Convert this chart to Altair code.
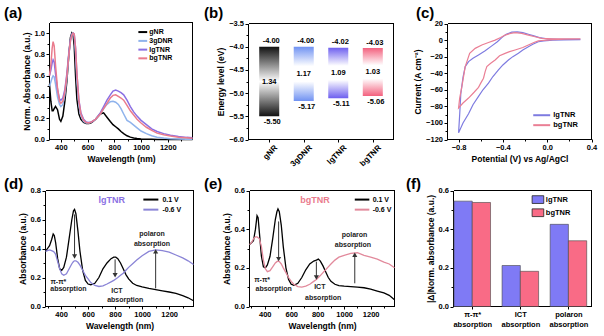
import json
import math
import altair as alt
import pandas as pd

W, H = 604, 336
FONT = "Liberation Sans"
ARROW = "#333333"

# ---------------- (a) normalized absorption ----------------
wl_a = [315, 325, 335, 342, 350, 360, 375, 390, 400, 415, 430, 445, 460, 472, 482, 492,
        500, 510, 520, 535, 550, 570, 590, 610, 630, 660, 695, 720, 745, 770, 790, 810,
        830, 850, 870, 895, 920, 945, 970, 1000, 1040, 1080, 1120, 1170, 1220, 1280, 1340, 1385]
abs_gNR = [0.52, 0.36, 0.27, 0.27, 0.29, 0.31, 0.28, 0.19, 0.17, 0.22,
           0.36, 0.55, 0.80, 0.96, 1.00, 0.98, 0.88, 0.60, 0.38, 0.24,
           0.19, 0.16, 0.15, 0.15, 0.16, 0.19, 0.24, 0.25, 0.21, 0.17,
           0.14, 0.12, 0.10, 0.075, 0.055, 0.035, 0.022, 0.014, 0.009, 0.005,
           0.003, 0.002, 0.001, 0.001, 0.0, 0.0, 0.0, 0.0]
abs_3gDNR = [0.50, 0.54, 0.58, 0.60, 0.59, 0.52, 0.40, 0.33, 0.31, 0.33,
             0.42, 0.58, 0.80, 0.93, 0.99, 1.00, 0.97, 0.80, 0.55, 0.32,
             0.22, 0.17, 0.155, 0.155, 0.165, 0.19, 0.24, 0.29, 0.33, 0.355,
             0.36, 0.35, 0.33, 0.29, 0.24, 0.18, 0.16, 0.135, 0.11, 0.08,
             0.055, 0.035, 0.022, 0.013, 0.008, 0.005, 0.003, 0.002]
abs_lgTNR = [0.60, 0.65, 0.72, 0.75, 0.73, 0.62, 0.47, 0.38, 0.37, 0.39,
             0.47, 0.62, 0.82, 0.94, 0.99, 1.00, 0.99, 0.86, 0.62, 0.37,
             0.25, 0.19, 0.165, 0.16, 0.165, 0.19, 0.25, 0.31, 0.37, 0.42,
             0.455, 0.465, 0.455, 0.44, 0.42, 0.37, 0.31, 0.26, 0.22, 0.18,
             0.14, 0.10, 0.075, 0.055, 0.04, 0.028, 0.02, 0.016]
abs_bgTNR = [0.60, 0.70, 0.86, 0.92, 0.88, 0.70, 0.48, 0.36, 0.34, 0.36,
             0.45, 0.60, 0.80, 0.93, 0.98, 1.00, 0.99, 0.86, 0.62, 0.36,
             0.24, 0.18, 0.16, 0.155, 0.165, 0.19, 0.24, 0.29, 0.34, 0.39,
             0.415, 0.42, 0.405, 0.39, 0.37, 0.32, 0.27, 0.23, 0.19, 0.155,
             0.115, 0.085, 0.06, 0.045, 0.032, 0.022, 0.016, 0.012]
names_a = ["gNR", "3gDNR", "lgTNR", "bgTNR"]
colors_a = ["#000000", "#8fb3ec", "#8a6fe3", "#ea7b8d"]

# ---------------- (b) energy levels ----------------
cat_b = ["gNR", "3gDNR", "lgTNR", "bgTNR"]
lumo_b = [-4.00, -4.00, -4.02, -4.03]
homo_b = [-5.50, -5.17, -5.11, -5.06]
gap_b = [1.34, 1.17, 1.09, 1.03]
colors_b = ["#111111", "#7092f2", "#6d5fef", "#f3627f"]

# ---------------- (c) cyclic voltammetry ----------------
cv_lg_v = [0.30, 0.15, 0.05, -0.03, -0.08, -0.13, -0.17, -0.22, -0.26, -0.31,
           -0.35, -0.40, -0.44, -0.49, -0.53, -0.58, -0.62, -0.67, -0.71, -0.76,
           -0.80, -0.79, -0.78, -0.76, -0.74, -0.71, -0.67, -0.62, -0.56, -0.50,
           -0.45, -0.41, -0.37, -0.32, -0.27, -0.22, -0.17, -0.12, -0.07, 0.00, 0.10, 0.30]
cv_lg_i = [0.5, 0.3, 0.0, -1.0, -2.0, -5.0, -8.0, -12.0, -16.0, -20.0,
           -24.0, -30.0, -36.0, -44.0, -52.0, -60.0, -68.0, -78.0, -89.0, -100.0,
           -112.0, -90.0, -65.0, -45.0, -32.0, -26.0, -22.0, -18.0, -13.0, -7.0,
           -2.0, 3.0, 7.0, 9.5, 10.0, 9.0, 7.0, 5.0, 3.0, 1.5, 1.0, 1.0]
cv_bg_v = [0.30, 0.15, 0.05, 0.00, -0.05, -0.08, -0.12, -0.17, -0.22, -0.29,
           -0.34, -0.38, -0.43, -0.47, -0.51, -0.545, -0.56, -0.575, -0.60, -0.62,
           -0.66, -0.71, -0.76, -0.80, -0.79, -0.77, -0.74, -0.70, -0.65, -0.59,
           -0.53, -0.47, -0.42, -0.38, -0.33, -0.29, -0.23, -0.17, -0.11, -0.05, 0.05, 0.30]
cv_bg_i = [1.5, 1.0, 0.5, 0.0, -0.5, -1.0, -3.0, -6.0, -9.0, -12.0,
           -14.0, -16.0, -19.0, -24.0, -28.0, -32.0, -38.0, -46.0, -52.0, -57.0,
           -63.0, -70.0, -76.0, -82.0, -70.0, -56.0, -32.0, -16.0, -10.0, -6.0,
           -3.0, 0.0, 3.0, 6.0, 8.0, 9.0, 8.0, 6.0, 4.0, 2.0, 1.5, 1.5]
names_c = ["lgTNR", "bgTNR"]
colors_c = ["#7e7be0", "#ea7f95"]

# ---------------- (d), (e) spectroelectrochemistry ----------------
wl_de = [285, 300, 315, 330, 342, 350, 360, 375, 390, 405, 420, 440, 460, 480, 492, 500,
         510, 525, 540, 560, 580, 600, 620, 650, 680, 710, 740, 770, 790, 805, 820, 840,
         860, 880, 900, 930, 960, 1000, 1050, 1100, 1150, 1200, 1250, 1300, 1340, 1380]
d_pos = [0.38, 0.40, 0.42, 0.46, 0.50, 0.49, 0.44, 0.33, 0.26, 0.25,
         0.27, 0.34, 0.47, 0.60, 0.66, 0.67, 0.64, 0.52, 0.38, 0.25,
         0.18, 0.155, 0.15, 0.16, 0.20, 0.26, 0.30, 0.33, 0.34, 0.34,
         0.33, 0.30, 0.26, 0.22, 0.19, 0.16, 0.145, 0.135, 0.125, 0.117,
         0.108, 0.10, 0.09, 0.075, 0.06, 0.04]
d_neg = [0.38, 0.385, 0.39, 0.385, 0.38, 0.375, 0.36, 0.31, 0.26, 0.225,
         0.215, 0.225, 0.26, 0.295, 0.31, 0.315, 0.315, 0.305, 0.285, 0.25,
         0.215, 0.19, 0.165, 0.145, 0.138, 0.142, 0.155, 0.17, 0.18, 0.19,
         0.20, 0.215, 0.23, 0.25, 0.27, 0.295, 0.32, 0.35, 0.38, 0.39,
         0.385, 0.375, 0.355, 0.335, 0.315, 0.29]
e_pos = [0.32, 0.33, 0.34, 0.40, 0.47, 0.46, 0.38, 0.26, 0.205, 0.20,
         0.215, 0.26, 0.35, 0.45, 0.49, 0.505, 0.49, 0.42, 0.31, 0.20,
         0.14, 0.115, 0.11, 0.12, 0.15, 0.19, 0.22, 0.235, 0.24, 0.245,
         0.235, 0.21, 0.18, 0.15, 0.13, 0.115, 0.108, 0.105, 0.103, 0.10,
         0.097, 0.09, 0.08, 0.07, 0.058, 0.035]
e_neg = [0.32, 0.33, 0.35, 0.36, 0.36, 0.355, 0.35, 0.31, 0.24, 0.195,
         0.18, 0.185, 0.205, 0.225, 0.232, 0.235, 0.232, 0.22, 0.20, 0.175,
         0.15, 0.13, 0.115, 0.103, 0.10, 0.105, 0.115, 0.13, 0.14, 0.15,
         0.16, 0.175, 0.19, 0.205, 0.22, 0.24, 0.255, 0.265, 0.275, 0.278,
         0.265, 0.255, 0.245, 0.23, 0.22, 0.20]
bias = ["0.1 V", "-0.6 V"]
colors_d = ["#000000", "#8a84d6"]
colors_e = ["#000000", "#e28a9c"]
ann_words = ["π-π*", "absorption", "ICT", "absorption", "polaron", "absorption"]
ann_d_x = [380, 454, 814, 875, 1073, 1073]
ann_d_y = [0.168, 0.121, 0.107, 0.045, 0.502, 0.433]
ann_e_x = [380, 467, 816, 841, 1078, 1066]
ann_e_y = [0.138, 0.091, 0.100, 0.046, 0.371, 0.319]
arr_d_x = [500, 800, 1100]
arr_d_from = [0.635, 0.325, 0.125]
arr_d_to = [0.345, 0.215, 0.38]
arr_e_x = [505, 790, 1080]
arr_e_from = [0.44, 0.232, 0.12]
arr_e_to = [0.245, 0.15, 0.268]

# ---------------- (f) bar summary ----------------
groups_f = ["π-π*", "ICT", "polaron"]
f_lg = [0.545, 0.212, 0.425]
f_bg = [0.538, 0.182, 0.340]
names_f = ["lgTNR", "bgTNR"]
colors_f = ["#7f7af5", "#f96b86"]

FRAME_COLOR = "#000000"


# ---------------- helpers ----------------
def lin(dom, rng):
    return alt.Scale(domain=dom, range=rng, nice=False, zero=False)


def xax(title, values, fmt, ypix, **kw):
    return alt.Axis(title=title, values=values, format=fmt, orient="bottom",
                    offset=math.floor(ypix) - H, **kw)


def yax(title, values, fmt, xpix, **kw):
    return alt.Axis(title=title, values=values, format=fmt, orient="left",
                    offset=-math.floor(xpix), **kw)


def guides(sx, sy, xd, yd, rx, ry, minx=None, miny=None):
    """Invisible anchor layers carrying the minor ticks and the top/right frame edges."""
    df = pd.DataFrame({"gx": [xd[0]], "gy": [yd[0]]})
    out = []
    ax_mx = (alt.Axis(title=None, values=minx, orient="bottom", offset=math.floor(ry[0]) - H,
                      labels=False, domain=False, tickSize=2) if minx else None)
    ax_my = (alt.Axis(title=None, values=miny, orient="left", offset=-math.floor(rx[0]),
                      labels=False, domain=False, tickSize=2) if miny else None)
    out.append(alt.Chart(df).mark_point(opacity=0).encode(
        x=alt.X("gx:Q", scale=sx, axis=ax_mx), y=alt.Y("gy:Q", scale=sy, axis=ax_my)))
    out.append(alt.Chart(df).mark_point(opacity=0).encode(
        x=alt.X("gx:Q", scale=sx,
                axis=alt.Axis(title=None, orient="top", offset=-math.floor(ry[1]),
                              labels=False, ticks=False, domain=True,
                              domainColor=FRAME_COLOR, domainWidth=1)),
        y=alt.Y("gy:Q", scale=sy,
                axis=alt.Axis(title=None, orient="right", offset=math.floor(rx[1]) - W,
                              labels=False, ticks=False, domain=True,
                              domainColor=FRAME_COLOR, domainWidth=1))))
    return out


def line_legend(names, colors, ys, x0, x1, xt, sx, sy, size=7):
    df = pd.DataFrame({"series": names, "y": ys, "lx0": x0, "lx1": x1, "xt": xt})
    cs = alt.Scale(domain=names, range=colors)
    r = alt.Chart(df).mark_rule(strokeWidth=2).encode(
        x=alt.X("lx0:Q", scale=sx, axis=None), x2=alt.X2("lx1"),
        y=alt.Y("y:Q", scale=sy, axis=None),
        color=alt.Color("series:N", scale=cs, legend=None))
    t = alt.Chart(df).mark_text(align="left", baseline="middle", fontSize=size).encode(
        x=alt.X("xt:Q", scale=sx, axis=None), y=alt.Y("y:Q", scale=sy, axis=None),
        text="series:N")
    return [r, t]


def arrows(xs, y0s, y1s, sx, sy):
    df = pd.DataFrame({"x": xs, "y0": y0s, "y1": y1s})
    shaft = alt.Chart(df).mark_rule(color=ARROW, strokeWidth=1).encode(
        x=alt.X("x:Q", scale=sx, axis=None), y=alt.Y("y0:Q", scale=sy, axis=None), y2=alt.Y2("y1"))
    head = alt.Chart(df).transform_calculate(ang="datum.y1 < datum.y0 ? 180 : 0").mark_point(
        shape="triangle-up", filled=True, color=ARROW, size=26, opacity=1).encode(
        x=alt.X("x:Q", scale=sx, axis=None), y=alt.Y("y1:Q", scale=sy, axis=None),
        angle=alt.Angle("ang:Q", scale=None))
    return [shaft, head]


def notes(words, xs, ys, sx, sy, size=7):
    df = pd.DataFrame({"w": words, "x": xs, "y": ys})
    return alt.Chart(df).mark_text(fontSize=size, color="#222222", baseline="middle").encode(
        x=alt.X("x:Q", scale=sx, axis=None), y=alt.Y("y:Q", scale=sy, axis=None), text="w:N")


wl_ticks = [400, 600, 800, 1000, 1200]
wl_minor = [300, 500, 700, 900, 1100, 1300]
layers = []

# ---------------- panel (a) ----------------
XA, YA = [315, 1385], [0, 1.1]
RXA, RYA = [49.5, 192.5], [139.5, 22.5]
sxa, sya = lin(XA, RXA), lin(YA, RYA)
df_a = pd.DataFrame({
    "wl": wl_a * 4,
    "val": abs_gNR + abs_3gDNR + abs_lgTNR + abs_bgTNR,
    "series": sum([[nm] * len(wl_a) for nm in names_a], []),
})
layers.append(alt.Chart(df_a).mark_line(strokeWidth=1.5).encode(
    x=alt.X("wl:Q", scale=sxa, axis=xax("Wavelength (nm)", wl_ticks, "d", RYA[0])),
    y=alt.Y("val:Q", scale=sya, axis=yax("Norm. Absorbance (a.u.)", [0, 0.2, 0.4, 0.6, 0.8, 1.0], ".1f", RXA[0])),
    color=alt.Color("series:N", scale=alt.Scale(domain=names_a, range=colors_a), legend=None),
))
layers += line_legend(names_a, colors_a, [1.01, 0.927, 0.845, 0.763], 980, 1046, 1062, sxa, sya)
layers += guides(sxa, sya, XA, YA, RXA, RYA, wl_minor[1:], [0.1, 0.3, 0.5, 0.7, 0.9])

# ---------------- panel (b) ----------------
XB, YB = [-0.6, 3.6], [-6.0, -3.5]
RXB, RYB = [248.5, 393.5], [139.5, 23.5]
sxb, syb = lin(XB, RXB), lin(YB, RYB)
df_b = pd.DataFrame({
    "idx": list(range(len(cat_b))),
    "name": cat_b,
    "lumo": lumo_b,
    "homo": homo_b,
    "mid": [(a + b) / 2 for a, b in zip(lumo_b, homo_b)],
    "lumo_t": [f"{v:.2f}" for v in lumo_b],
    "homo_t": [f"{v:.2f}" for v in homo_b],
    "gap_t": [f"{v:.2f}" for v in gap_b],
})


def grad(c, continuous):
    if continuous:
        stops = [{"offset": 0, "color": c}, {"offset": 0.5, "color": "#ffffff"},
                 {"offset": 1, "color": c}]
    else:
        stops = [{"offset": 0, "color": c}, {"offset": 0.36, "color": "#ffffff"},
                 {"offset": 0.64, "color": "#ffffff"}, {"offset": 1, "color": c}]
    return {"gradient": "linear", "x1": 0, "y1": 0, "x2": 0, "y2": 1, "stops": stops}


for i, c in enumerate(colors_b):
    first = i == 0
    layers.append(
        alt.Chart(df_b).transform_filter(alt.datum.idx == i)
        .transform_calculate(bx0="datum.idx - 0.29", bx1="datum.idx + 0.29")
        .mark_rect(color=grad(c, first))
        .encode(
            x=alt.X("bx0:Q", scale=sxb,
                    axis=alt.Axis(title=None, values=list(range(len(cat_b))), orient="bottom",
                                  offset=math.floor(RYB[0]) - H, labelAngle=315, labelOffset=4,
                                  labelFontSize=8,
                                  labelExpr=json.dumps(cat_b) + "[datum.value]") if first else None),
            x2=alt.X2("bx1"),
            y=alt.Y("lumo:Q", scale=syb,
                    axis=yax("Energy level (eV)", [-6.0, -5.5, -5.0, -4.5, -4.0, -3.5], ".1f", RXB[0]) if first else None),
            y2=alt.Y2("homo"),
        )
    )
layers.append(alt.Chart(df_b).mark_text(fontSize=7.5, baseline="bottom", dy=-1.5, dx=2).encode(
    x=alt.X("idx:Q", scale=sxb, axis=None), y=alt.Y("lumo:Q", scale=syb, axis=None), text="lumo_t:N"))
layers.append(alt.Chart(df_b).mark_text(fontSize=7.5, baseline="top", dy=2, dx=3).encode(
    x=alt.X("idx:Q", scale=sxb, axis=None), y=alt.Y("homo:Q", scale=syb, axis=None), text="homo_t:N"))
layers.append(alt.Chart(df_b).mark_text(fontSize=7.5, baseline="middle").encode(
    x=alt.X("idx:Q", scale=sxb, axis=None), y=alt.Y("mid:Q", scale=syb, axis=None), text="gap_t:N"))
layers += guides(sxb, syb, XB, YB, RXB, RYB, None, [-5.75, -5.25, -4.75, -4.25, -3.75])

# ---------------- panel (c) ----------------
XC, YC = [-0.9, 0.4], [-120, 20]
RXC, RYC = [447.5, 591.5], [139.5, 23.5]
sxc, syc = lin(XC, RXC), lin(YC, RYC)
df_c = pd.DataFrame({
    "v": cv_lg_v + cv_bg_v,
    "i": cv_lg_i + cv_bg_i,
    "series": [names_c[0]] * len(cv_lg_v) + [names_c[1]] * len(cv_bg_v),
    "k": list(range(len(cv_lg_v))) + list(range(len(cv_bg_v))),
})
layers.append(alt.Chart(df_c).mark_line(strokeWidth=1.2).encode(
    x=alt.X("v:Q", scale=sxc, axis=xax("Potential (V) vs Ag/AgCl", [-0.8, -0.4, 0.0, 0.4], ".1f", RYC[0])),
    y=alt.Y("i:Q", scale=syc, axis=yax("Current (A cm⁻²)", list(range(-120, 21, 20)), "d", RXC[0])),
    color=alt.Color("series:N", scale=alt.Scale(domain=names_c, range=colors_c), legend=None),
    order=alt.Order("k:Q"),
))
layers += line_legend(names_c, colors_c, [-90.7, -102.7], -0.126, 0.027, 0.055, sxc, syc, size=7.5)
layers += guides(sxc, syc, XC, YC, RXC, RYC, [-0.6, -0.2, 0.2], list(range(-110, 20, 20)))

# ---------------- panel (d) ----------------
XD, YD = [285, 1380], [0, 0.8]
RXD, RYD = [45.5, 193.5], [306.5, 190.5]
sxd, syd = lin(XD, RXD), lin(YD, RYD)
n = len(wl_de)
df_d = pd.DataFrame({"wl": wl_de * 2, "val": d_pos + d_neg, "series": [bias[0]] * n + [bias[1]] * n})
layers.append(alt.Chart(df_d).mark_line(strokeWidth=1.3).encode(
    x=alt.X("wl:Q", scale=sxd, axis=xax("Wavelength (nm)", wl_ticks, "d", RYD[0])),
    y=alt.Y("val:Q", scale=syd, axis=yax("Absorbance (a.u.)", [0, 0.2, 0.4, 0.6, 0.8], ".1f", RXD[0])),
    color=alt.Color("series:N", scale=alt.Scale(domain=bias, range=colors_d), legend=None),
))
layers += arrows(arr_d_x, arr_d_from, arr_d_to, sxd, syd)
layers.append(notes(ann_words, ann_d_x, ann_d_y, sxd, syd))
layers.append(alt.Chart(pd.DataFrame({"w": ["lgTNR"], "x": [776], "y": [0.7375]})).mark_text(
    fontSize=9, color=colors_a[2], baseline="middle").encode(
    x=alt.X("x:Q", scale=sxd, axis=None), y=alt.Y("y:Q", scale=syd, axis=None), text="w:N"))
layers += line_legend(bias, colors_d, [0.7375, 0.668], 1009, 1120, 1150, sxd, syd)
layers += guides(sxd, syd, XD, YD, RXD, RYD, wl_minor, [0.1, 0.3, 0.5, 0.7])

# ---------------- panel (e) ----------------
XE, YE = [285, 1380], [0, 0.6]
RXE, RYE = [249.5, 394.5], [306.5, 190.5]
sxe, sye = lin(XE, RXE), lin(YE, RYE)
df_e = pd.DataFrame({"wl": wl_de * 2, "val": e_pos + e_neg, "series": [bias[0]] * n + [bias[1]] * n})
layers.append(alt.Chart(df_e).mark_line(strokeWidth=1.3).encode(
    x=alt.X("wl:Q", scale=sxe, axis=xax("Wavelength (nm)", wl_ticks, "d", RYE[0])),
    y=alt.Y("val:Q", scale=sye, axis=yax("Absorbance (a.u.)", [0, 0.2, 0.4, 0.6], ".1f", RXE[0])),
    color=alt.Color("series:N", scale=alt.Scale(domain=bias, range=colors_e), legend=None),
))
layers += arrows(arr_e_x, arr_e_from, arr_e_to, sxe, sye)
layers.append(notes(ann_words, ann_e_x, ann_e_y, sxe, sye))
layers.append(alt.Chart(pd.DataFrame({"w": ["bgTNR"], "x": [779], "y": [0.553]})).mark_text(
    fontSize=9, color=colors_a[3], baseline="middle").encode(
    x=alt.X("x:Q", scale=sxe, axis=None), y=alt.Y("y:Q", scale=sye, axis=None), text="w:N"))
layers += line_legend(bias, colors_e, [0.553, 0.501], 1080, 1190, 1215, sxe, sye)
layers += guides(sxe, sye, XE, YE, RXE, RYE, wl_minor, [0.1, 0.3, 0.5])

# ---------------- panel (f) ----------------
XF, YF = [-0.39, 2.48], [0, 0.6]
RXF, RYF = [453.5, 591.5], [306.5, 190.5]
sxf, syf = lin(XF, RXF), lin(YF, RYF)
df_f = pd.DataFrame({
    "g": [0, 1, 2, 0, 1, 2],
    "k": [0, 0, 0, 1, 1, 1],
    "val": f_lg + f_bg,
    "series": [names_f[0]] * 3 + [names_f[1]] * 3,
})
layers.append(alt.Chart(df_f).transform_calculate(
    gx0="datum.g - 0.38 + 0.38 * datum.k", gx1="datum.g + 0.38 * datum.k", base="0"
).mark_rect(stroke="#444444", strokeWidth=0.6).encode(
    x=alt.X("gx0:Q", scale=sxf,
            axis=alt.Axis(title=None, values=[0, 1, 2], orient="bottom",
                          offset=math.floor(RYF[0]) - H, labelLineHeight=10,
                          labelExpr="[" + json.dumps(groups_f, ensure_ascii=False) + "[datum.value], 'absorption']")),
    x2=alt.X2("gx1"),
    y=alt.Y("val:Q", scale=syf, axis=yax("|Δ|Norm. absorbance (a.u.)", [0, 0.2, 0.4, 0.6], ".1f", RXF[0])),
    y2=alt.Y2("base:Q"),
    color=alt.Color("series:N", scale=alt.Scale(domain=names_f, range=colors_f), legend=None),
))
leg_f = pd.DataFrame({"series": names_f, "yc": [0.553, 0.485]})
layers.append(alt.Chart(leg_f).transform_calculate(
    rx0="1.245", rx1="1.487", ya="datum.yc - 0.02", yb="datum.yc + 0.02"
).mark_rect(stroke="#222222", strokeWidth=0.8).encode(
    x=alt.X("rx0:Q", scale=sxf, axis=None), x2=alt.X2("rx1"),
    y=alt.Y("ya:Q", scale=syf, axis=None), y2=alt.Y2("yb"),
    color=alt.Color("series:N", scale=alt.Scale(domain=names_f, range=colors_f), legend=None),
))
layers.append(alt.Chart(leg_f).transform_calculate(xt="1.53").mark_text(
    align="left", baseline="middle", fontSize=7.5).encode(
    x=alt.X("xt:Q", scale=sxf, axis=None), y=alt.Y("yc:Q", scale=syf, axis=None), text="series:N"))
layers += guides(sxf, syf, XF, YF, RXF, RYF, None, [0.1, 0.3, 0.5])

# ---------------- panel tags ----------------
panel_tags = ["(a)", "(b)", "(c)", "(d)", "(e)", "(f)"]
tag_px = [(4, 18), (204, 18), (416, 18), (4, 189), (204, 189), (406, 189)]
for t, p in zip(panel_tags, tag_px):
    layers.append(alt.Chart(pd.DataFrame({"t": [t]})).mark_text(
        align="left", baseline="alphabetic", fontSize=15).encode(
        x=alt.value(p[0]), y=alt.value(p[1]), text="t:N"))

chart = alt.layer(*layers).resolve_scale(
    x="independent", y="independent", color="independent"
).properties(
    width=W, height=H, padding=0, background="white",
    autosize=alt.AutoSizeParams(type="none"),
).configure_view(stroke=None).configure_axis(
    labelFont=FONT, titleFont=FONT, labelFontWeight="bold", titleFontWeight="bold",
    labelFontSize=7.5, titleFontSize=8.5, labelColor="black", titleColor="black",
    domainColor="black", tickColor="black", domainWidth=1, tickWidth=1, tickSize=3,
    labelPadding=1.5, titlePadding=3, grid=False, labelFlush=False, labelOverlap=False,
).configure_text(font=FONT, fontWeight="bold", color="black")

chart.save("out.html", embed_options={"renderer": "svg", "actions": False})
